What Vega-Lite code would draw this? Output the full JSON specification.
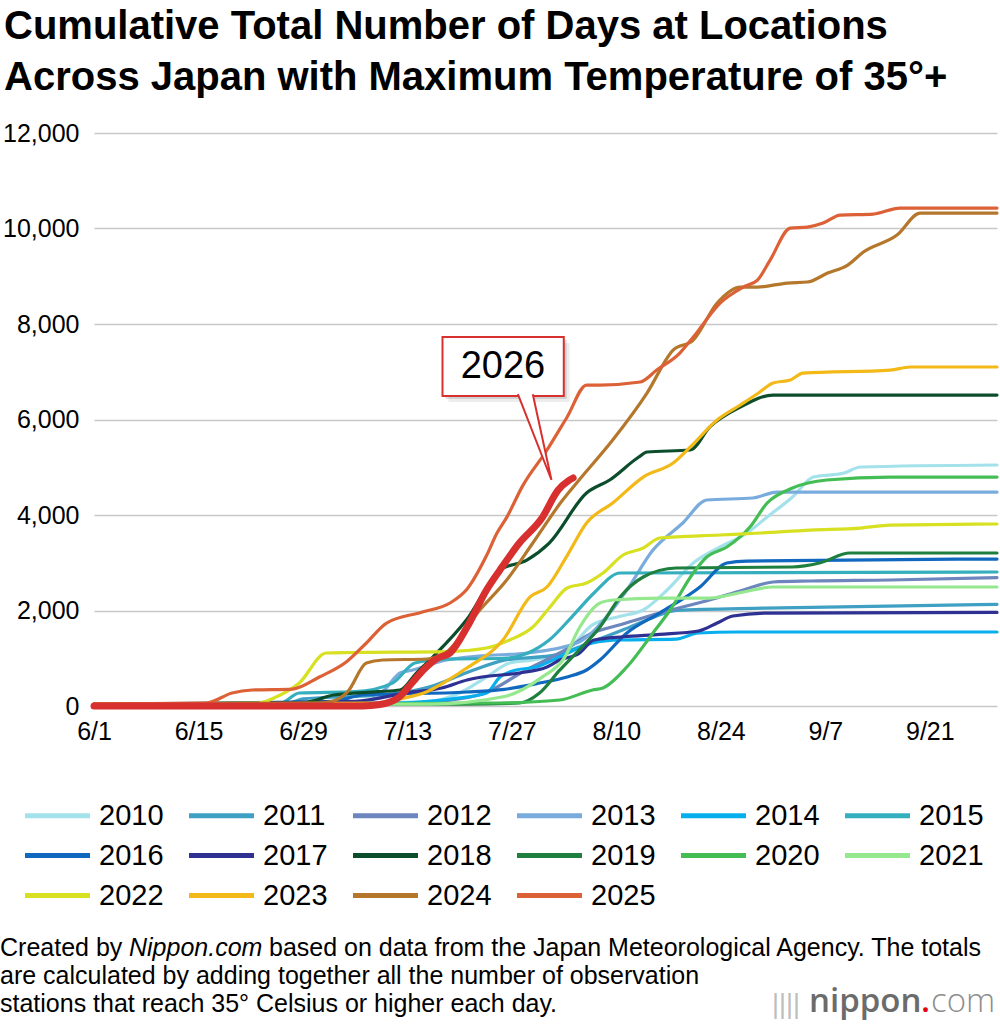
{
  "$schema": "https://vega.github.io/schema/vega-lite/v6.json",
  "padding": {"left": 0, "top": 7, "right": 0, "bottom": 0},
  "title": {
    "text": ["Cumulative Total Number of Days at Locations", "Across Japan with Maximum Temperature of 35°+"],
    "anchor": "start",
    "fontSize": 40,
    "fontWeight": "bold",
    "lineHeight": 51,
    "color": "#000",
    "offset": 23,
    "dx": 4
  },
  "datasets": {
    "hist": [
      {"year":"2010","day":0,"value":40},{"year":"2010","day":30,"value":60},{"year":"2010","day":44,"value":80},{"year":"2010","day":49,"value":272},{"year":"2010","day":52.6,"value":607},{"year":"2010","day":55.7,"value":900},{"year":"2010","day":58.8,"value":963},{"year":"2010","day":63.4,"value":1173},{"year":"2010","day":66.8,"value":1700},{"year":"2010","day":70.5,"value":1880},{"year":"2010","day":73.6,"value":2010},{"year":"2010","day":76.8,"value":2429},{"year":"2010","day":80.3,"value":2994},{"year":"2010","day":83.9,"value":3330},{"year":"2010","day":87.5,"value":3623},{"year":"2010","day":90.2,"value":3958},{"year":"2010","day":93.6,"value":4377},{"year":"2010","day":96.4,"value":4795},{"year":"2010","day":100.5,"value":4879},{"year":"2010","day":102.7,"value":5005},{"year":"2010","day":121,"value":5047},
      {"year":"2011","day":0,"value":40},{"year":"2011","day":26,"value":60},{"year":"2011","day":28,"value":150},{"year":"2011","day":35,"value":200},{"year":"2011","day":40,"value":250},{"year":"2011","day":45,"value":400},{"year":"2011","day":50,"value":700},{"year":"2011","day":55,"value":960},{"year":"2011","day":62,"value":1070},{"year":"2011","day":66,"value":1300},{"year":"2011","day":71,"value":1600},{"year":"2011","day":75,"value":1860},{"year":"2011","day":78,"value":2000},{"year":"2011","day":90,"value":2050},{"year":"2011","day":121,"value":2130},
      {"year":"2012","day":0,"value":40},{"year":"2012","day":40,"value":50},{"year":"2012","day":45,"value":80},{"year":"2012","day":52,"value":250},{"year":"2012","day":57.9,"value":754},{"year":"2012","day":62.4,"value":1110},{"year":"2012","day":66.8,"value":1529},{"year":"2012","day":70.5,"value":1700},{"year":"2012","day":75.8,"value":1947},{"year":"2012","day":82.5,"value":2220},{"year":"2012","day":87,"value":2429},{"year":"2012","day":91,"value":2597},{"year":"2012","day":96,"value":2618},{"year":"2012","day":106.7,"value":2639},{"year":"2012","day":121,"value":2690},
      {"year":"2013","day":0,"value":40},{"year":"2013","day":36,"value":60},{"year":"2013","day":39,"value":350},{"year":"2013","day":41,"value":691},{"year":"2013","day":42.7,"value":754},{"year":"2013","day":47.2,"value":963},{"year":"2013","day":52,"value":1050},{"year":"2013","day":58,"value":1110},{"year":"2013","day":64.7,"value":1319},{"year":"2013","day":69.1,"value":1947},{"year":"2013","day":71.4,"value":2429},{"year":"2013","day":74.9,"value":3266},{"year":"2013","day":78.9,"value":3832},{"year":"2013","day":82.1,"value":4314},{"year":"2013","day":88.3,"value":4356},{"year":"2013","day":91.5,"value":4481},{"year":"2013","day":121,"value":4481},
      {"year":"2014","day":0,"value":40},{"year":"2014","day":40,"value":60},{"year":"2014","day":48,"value":150},{"year":"2014","day":52.6,"value":272},{"year":"2014","day":54.4,"value":607},{"year":"2014","day":56.6,"value":754},{"year":"2014","day":59.3,"value":816},{"year":"2014","day":62.4,"value":1030},{"year":"2014","day":66.8,"value":1319},{"year":"2014","day":70.5,"value":1382},{"year":"2014","day":78,"value":1400},{"year":"2014","day":81,"value":1529},{"year":"2014","day":86,"value":1550},{"year":"2014","day":121,"value":1550},
      {"year":"2015","day":0,"value":40},{"year":"2015","day":25,"value":60},{"year":"2015","day":27.5,"value":272},{"year":"2015","day":35,"value":300},{"year":"2015","day":40,"value":480},{"year":"2015","day":43,"value":900},{"year":"2015","day":47,"value":980},{"year":"2015","day":55,"value":1000},{"year":"2015","day":58,"value":1100},{"year":"2015","day":61,"value":1382},{"year":"2015","day":64.5,"value":1947},{"year":"2015","day":67,"value":2366},{"year":"2015","day":70.5,"value":2785},{"year":"2015","day":121,"value":2806},
      {"year":"2016","day":0,"value":40},{"year":"2016","day":32,"value":100},{"year":"2016","day":36,"value":230},{"year":"2016","day":50,"value":293},{"year":"2016","day":55,"value":350},{"year":"2016","day":59.7,"value":481},{"year":"2016","day":63.4,"value":607},{"year":"2016","day":66,"value":754},{"year":"2016","day":67.8,"value":963},{"year":"2016","day":71.4,"value":1529},{"year":"2016","day":75.8,"value":1947},{"year":"2016","day":81.2,"value":2492},{"year":"2016","day":84.8,"value":2994},{"year":"2016","day":87.5,"value":3036},{"year":"2016","day":121,"value":3078},
      {"year":"2017","day":0,"value":40},{"year":"2017","day":35,"value":100},{"year":"2017","day":42,"value":280},{"year":"2017","day":46.6,"value":377},{"year":"2017","day":50,"value":545},{"year":"2017","day":52,"value":607},{"year":"2017","day":57,"value":691},{"year":"2017","day":60.7,"value":816},{"year":"2017","day":62.4,"value":963},{"year":"2017","day":65,"value":1100},{"year":"2017","day":67,"value":1382},{"year":"2017","day":71,"value":1450},{"year":"2017","day":75.8,"value":1500},{"year":"2017","day":81,"value":1570},{"year":"2017","day":83.5,"value":1738},{"year":"2017","day":85.6,"value":1885},{"year":"2017","day":90.2,"value":1947},{"year":"2017","day":121,"value":1960},
      {"year":"2018","day":0,"value":40},{"year":"2018","day":28,"value":60},{"year":"2018","day":29.8,"value":126},{"year":"2018","day":32.1,"value":230},{"year":"2018","day":38,"value":300},{"year":"2018","day":41,"value":335},{"year":"2018","day":43.2,"value":691},{"year":"2018","day":45.4,"value":1026},{"year":"2018","day":49.9,"value":1800},{"year":"2018","day":54.4,"value":2848},{"year":"2018","day":58,"value":3057},{"year":"2018","day":61,"value":3413},{"year":"2018","day":66,"value":4460},{"year":"2018","day":69.1,"value":4733},{"year":"2018","day":73,"value":5214},{"year":"2018","day":74.1,"value":5319},{"year":"2018","day":79.9,"value":5361},{"year":"2018","day":82.5,"value":5842},{"year":"2018","day":86.6,"value":6261},{"year":"2018","day":91,"value":6512},{"year":"2018","day":121,"value":6512},
      {"year":"2019","day":0,"value":30},{"year":"2019","day":50,"value":40},{"year":"2019","day":57,"value":63},{"year":"2019","day":59.7,"value":272},{"year":"2019","day":62.4,"value":750},{"year":"2019","day":65,"value":1173},{"year":"2019","day":67.8,"value":1654},{"year":"2019","day":70.5,"value":2282},{"year":"2019","day":73.6,"value":2701},{"year":"2019","day":78,"value":2890},{"year":"2019","day":93.6,"value":2911},{"year":"2019","day":97.2,"value":2994},{"year":"2019","day":101.3,"value":3204},{"year":"2019","day":121,"value":3204},
      {"year":"2020","day":0,"value":30},{"year":"2020","day":54,"value":63},{"year":"2020","day":62.4,"value":126},{"year":"2020","day":66.8,"value":335},{"year":"2020","day":68.2,"value":377},{"year":"2020","day":71.4,"value":816},{"year":"2020","day":74.9,"value":1529},{"year":"2020","day":77.2,"value":2010},{"year":"2020","day":80.3,"value":2785},{"year":"2020","day":82.1,"value":3120},{"year":"2020","day":84.8,"value":3330},{"year":"2020","day":87.9,"value":3748},{"year":"2020","day":90.2,"value":4251},{"year":"2020","day":93.6,"value":4565},{"year":"2020","day":98.2,"value":4733},{"year":"2020","day":106.7,"value":4795},{"year":"2020","day":121,"value":4795},
      {"year":"2021","day":0,"value":30},{"year":"2021","day":45,"value":40},{"year":"2021","day":55,"value":200},{"year":"2021","day":60,"value":600},{"year":"2021","day":63,"value":1000},{"year":"2021","day":65.1,"value":1654},{"year":"2021","day":67.8,"value":2157},{"year":"2021","day":69.6,"value":2220},{"year":"2021","day":75.8,"value":2261},{"year":"2021","day":82.5,"value":2261},{"year":"2021","day":87,"value":2387},{"year":"2021","day":91,"value":2492},{"year":"2021","day":121,"value":2492},
      {"year":"2022","day":0,"value":40},{"year":"2022","day":22,"value":60},{"year":"2022","day":24.4,"value":188},{"year":"2022","day":27.5,"value":481},{"year":"2022","day":31.1,"value":1110},{"year":"2022","day":34.6,"value":1120},{"year":"2022","day":47.2,"value":1140},{"year":"2022","day":52.6,"value":1214},{"year":"2022","day":55.7,"value":1382},{"year":"2022","day":58.8,"value":1654},{"year":"2022","day":61.1,"value":2073},{"year":"2022","day":63.4,"value":2471},{"year":"2022","day":66,"value":2576},{"year":"2022","day":68.2,"value":2785},{"year":"2022","day":70.9,"value":3162},{"year":"2022","day":73.6,"value":3308},{"year":"2022","day":75.8,"value":3518},{"year":"2022","day":83.9,"value":3581},{"year":"2022","day":89.3,"value":3623},{"year":"2022","day":96,"value":3685},{"year":"2022","day":102.7,"value":3727},{"year":"2022","day":106.7,"value":3790},{"year":"2022","day":121,"value":3811},
      {"year":"2023","day":0,"value":40},{"year":"2023","day":38,"value":60},{"year":"2023","day":41,"value":150},{"year":"2023","day":44.6,"value":300},{"year":"2023","day":47,"value":500},{"year":"2023","day":50,"value":800},{"year":"2023","day":54.8,"value":1382},{"year":"2023","day":58.4,"value":2282},{"year":"2023","day":60.7,"value":2492},{"year":"2023","day":63.4,"value":3150},{"year":"2023","day":66,"value":3832},{"year":"2023","day":69.5,"value":4251},{"year":"2023","day":73.6,"value":4795},{"year":"2023","day":77.6,"value":5088},{"year":"2023","day":79.9,"value":5424},{"year":"2023","day":83.5,"value":5989},{"year":"2023","day":86.6,"value":6303},{"year":"2023","day":89,"value":6550},{"year":"2023","day":91,"value":6764},{"year":"2023","day":93.3,"value":6827},{"year":"2023","day":95,"value":6973},{"year":"2023","day":106.7,"value":7036},{"year":"2023","day":109.4,"value":7099},{"year":"2023","day":121,"value":7099},
      {"year":"2024","day":0,"value":40},{"year":"2024","day":30,"value":60},{"year":"2024","day":32,"value":100},{"year":"2024","day":34,"value":300},{"year":"2024","day":36.5,"value":900},{"year":"2024","day":38.7,"value":963},{"year":"2024","day":44.6,"value":984},{"year":"2024","day":47,"value":1100},{"year":"2024","day":51.7,"value":2010},{"year":"2024","day":55.3,"value":2638},{"year":"2024","day":58.8,"value":3413},{"year":"2024","day":62.8,"value":4314},{"year":"2024","day":65,"value":4733},{"year":"2024","day":69.5,"value":5570},{"year":"2024","day":74.1,"value":6554},{"year":"2024","day":77.6,"value":7455},{"year":"2024","day":80.3,"value":7664},{"year":"2024","day":83.5,"value":8439},{"year":"2024","day":86.6,"value":8774},{"year":"2024","day":88.9,"value":8774},{"year":"2024","day":92.9,"value":8858},{"year":"2024","day":95.6,"value":8879},{"year":"2024","day":98.3,"value":9067},{"year":"2024","day":101,"value":9235},{"year":"2024","day":103.1,"value":9507},{"year":"2024","day":107.6,"value":9863},{"year":"2024","day":110.7,"value":10323},{"year":"2024","day":121,"value":10323},
      {"year":"2025","day":0,"value":40},{"year":"2025","day":15,"value":60},{"year":"2025","day":18.5,"value":272},{"year":"2025","day":21.2,"value":335},{"year":"2025","day":26.6,"value":355},{"year":"2025","day":30.2,"value":607},{"year":"2025","day":33.8,"value":921},{"year":"2025","day":36.5,"value":1319},{"year":"2025","day":39.2,"value":1738},{"year":"2025","day":44,"value":1968},{"year":"2025","day":47.7,"value":2157},{"year":"2025","day":50,"value":2450},{"year":"2025","day":52.6,"value":3150},{"year":"2025","day":54,"value":3623},{"year":"2025","day":55.3,"value":3950},{"year":"2025","day":57.4,"value":4600},{"year":"2025","day":60.7,"value":5361},{"year":"2025","day":63.4,"value":6052},{"year":"2025","day":66,"value":6722},{"year":"2025","day":67.8,"value":6722},{"year":"2025","day":73.2,"value":6785},{"year":"2025","day":75.4,"value":7036},{"year":"2025","day":78.5,"value":7392},{"year":"2025","day":80.3,"value":7727},{"year":"2025","day":83.9,"value":8439},{"year":"2025","day":87,"value":8774},{"year":"2025","day":88.9,"value":8920},{"year":"2025","day":90.6,"value":9339},{"year":"2025","day":93.3,"value":10009},{"year":"2025","day":95.6,"value":10030},{"year":"2025","day":97.7,"value":10114},{"year":"2025","day":100,"value":10282},{"year":"2025","day":104.4,"value":10302},{"year":"2025","day":108,"value":10428},{"year":"2025","day":121,"value":10428}
    ],
    "y2026": [
      {"year":"2026","day":0,"value":0},{"year":"2026","day":36,"value":0},{"year":"2026","day":38.3,"value":30},{"year":"2026","day":40.9,"value":188},{"year":"2026","day":42.6,"value":481},{"year":"2026","day":44.3,"value":780},{"year":"2026","day":46,"value":1000},{"year":"2026","day":47.7,"value":1110},{"year":"2026","day":50,"value":1654},{"year":"2026","day":52.6,"value":2429},{"year":"2026","day":54.4,"value":2850},{"year":"2026","day":57,"value":3413},{"year":"2026","day":60,"value":3930},{"year":"2026","day":62.2,"value":4523},{"year":"2026","day":63.6,"value":4720},{"year":"2026","day":64.2,"value":4775}
    ]
  },
  "vconcat": [
    {
      "width": 903,
      "height": 573,
      "layer": [
        {
          "data": {"name": "hist"},
          "mark": {"type": "line", "interpolate": "monotone", "strokeWidth": 3.2, "strokeCap": "round", "strokeJoin": "round"},
          "encoding": {
            "x": {
              "field": "day", "type": "quantitative",
              "scale": {"domain": [0, 121], "nice": false, "zero": false},
              "axis": {
                "values": [0, 14, 28, 42, 56, 70, 84, 98, 112],
                "labelExpr": "timeFormat(datetime(2026, 5, 1 + datum.value), '%-m/%-d')",
                "title": null, "domain": false, "ticks": false, "grid": false,
                "labelFontSize": 25, "labelPadding": 13, "labelFlush": false, "labelColor": "#000"
              }
            },
            "y": {
              "field": "value", "type": "quantitative",
              "scale": {"domain": [0, 12000], "nice": false},
              "axis": {
                "values": [0, 2000, 4000, 6000, 8000, 10000, 12000],
                "format": ",d", "title": null, "domain": false, "ticks": false,
                "grid": true, "gridColor": "#C8C8C8", "gridWidth": 1.6,
                "labelFontSize": 25, "labelPadding": 15, "labelColor": "#000"
              }
            },
            "color": {
              "field": "year", "type": "nominal",
              "scale": {
                "domain": ["2010","2011","2012","2013","2014","2015","2016","2017","2018","2019","2020","2021","2022","2023","2024","2025"],
                "range": ["#A3E2EA","#3FA0C4","#6E86BE","#79ACDD","#08AFED","#35AFBE","#1068BF","#2E3192","#0C4E2B","#1E7F3E","#44BD55","#96E88E","#D7E021","#F2B918","#B4772B","#DD6136"]
              },
              "legend": {
                "orient": "none", "legendX": -51, "legendY": 668,
                "direction": "horizontal", "columns": 6, "title": null,
                "symbolType": "M-4,0H4", "symbolSize": 264, "symbolStrokeWidth": 5,
                "labelFontSize": 29, "labelOffset": 27, "labelColor": "#000",
                "columnPadding": 15, "rowPadding": 10
              }
            }
          }
        },
        {
          "data": {"name": "y2026"},
          "mark": {"type": "line", "interpolate": "monotone", "strokeWidth": 7, "strokeCap": "round", "strokeJoin": "round", "color": "#D8302F"},
          "encoding": {
            "x": {"field": "day", "type": "quantitative"},
            "y": {"field": "value", "type": "quantitative"}
          }
        },
        {
          "data": {"values": [{}]},
          "mark": {"type": "rect", "color": "#000", "opacity": 0.07},
          "encoding": {
            "x": {"datum": 47.5}, "x2": {"datum": 63.75},
            "y": {"datum": 7601}, "y2": {"datum": 6365}
          }
        },
        {
          "data": {"values": [{}]},
          "mark": {"type": "rect", "color": "#000", "opacity": 0.12},
          "encoding": {
            "x": {"datum": 47.1}, "x2": {"datum": 63.35},
            "y": {"datum": 7664}, "y2": {"datum": 6428}
          }
        },
        {
          "data": {"values": [{}]},
          "mark": {"type": "rect", "fill": "#FFFFFF", "stroke": "#D8302F", "strokeWidth": 2},
          "encoding": {
            "x": {"datum": 46.7}, "x2": {"datum": 62.95},
            "y": {"datum": 7727}, "y2": {"datum": 6491}
          }
        },
        {
          "data": {"values": [
            {"k": 1, "day": 56.8, "value": 6530},
            {"k": 2, "day": 61.3, "value": 4733},
            {"k": 3, "day": 58.8, "value": 6530}
          ]},
          "mark": {"type": "line", "fill": "#FFFFFF", "stroke": "#D8302F", "strokeWidth": 2, "strokeJoin": "miter"},
          "encoding": {
            "x": {"field": "day", "type": "quantitative"},
            "y": {"field": "value", "type": "quantitative"},
            "order": {"field": "k"}
          }
        },
        {
          "data": {"values": [{}]},
          "mark": {"type": "text", "text": "2026", "fontSize": 38, "align": "center", "baseline": "middle", "color": "#000"},
          "encoding": {
            "x": {"datum": 54.8}, "y": {"datum": 7109}
          }
        }
      ]
    },
    {
      "width": 900,
      "height": 90,
      "data": {"values": [{}]},
      "encoding": {
        "x": {"datum": 0, "type": "quantitative", "scale": {"domain": [0, 1000], "range": [-94, 906]}, "axis": null},
        "y": {"datum": 14, "type": "quantitative", "scale": {"domain": [0, 84], "range": [0, 84]}, "axis": null}
      },
      "layer": [
        {"mark": {"type": "text", "text": "Created by", "align": "left", "baseline": "middle", "fontSize": 25, "color": "#000"}},
        {"mark": {"type": "text", "text": "Nippon.com", "align": "left", "baseline": "middle", "fontSize": 25, "fontStyle": "italic", "color": "#000"},
         "encoding": {"x": {"datum": 129}}},
        {"mark": {"type": "text", "text": "based on data from the Japan Meteorological Agency. The totals", "align": "left", "baseline": "middle", "fontSize": 25, "color": "#000"},
         "encoding": {"x": {"datum": 269}}},
        {"mark": {"type": "text", "text": "are calculated by adding together all the number of observation", "align": "left", "baseline": "middle", "fontSize": 25, "color": "#000"},
         "encoding": {"y": {"datum": 42}}},
        {"mark": {"type": "text", "text": "stations that reach 35° Celsius or higher each day.", "align": "left", "baseline": "middle", "fontSize": 25, "color": "#000"},
         "encoding": {"y": {"datum": 70}}},
        {"mark": {"type": "text", "text": "||||", "align": "left", "baseline": "alphabetic", "fontSize": 27, "color": "#BDBDBD"},
         "encoding": {"x": {"datum": 772}, "y": {"datum": 79}}},
        {"mark": {"type": "text", "text": "nippon", "align": "left", "baseline": "alphabetic", "font": "Open Sans", "fontSize": 33, "fontWeight": 600, "color": "#6B6B6B"},
         "encoding": {"x": {"datum": 809}, "y": {"datum": 78}}},
        {"mark": {"type": "text", "text": ".", "align": "left", "baseline": "alphabetic", "font": "Open Sans", "fontSize": 33, "fontWeight": 600, "color": "#E50012"},
         "encoding": {"x": {"datum": 921}, "y": {"datum": 78}}},
        {"mark": {"type": "text", "text": "com", "align": "left", "baseline": "alphabetic", "font": "Open Sans", "fontSize": 33, "fontWeight": 300, "color": "#8E8E8E"},
         "encoding": {"x": {"datum": 931}, "y": {"datum": 78}}}
      ]
    }
  ],
  "spacing": 190,
  "config": {
    "font": "Liberation Sans",
    "view": {"stroke": null},
    "axis": {"labelFont": "Liberation Sans"},
    "legend": {"labelFont": "Liberation Sans"},
    "title": {"font": "Liberation Sans"}
  }
}
